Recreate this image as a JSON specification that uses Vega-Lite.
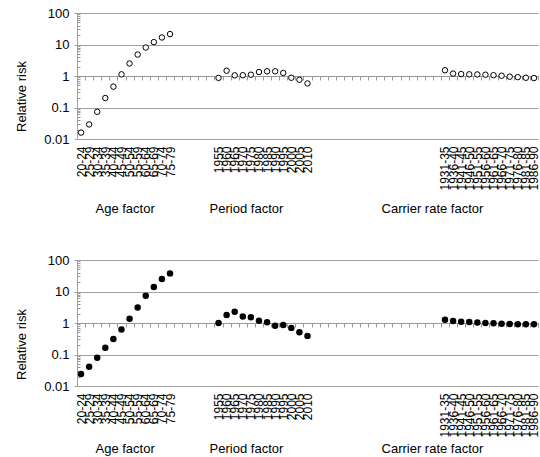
{
  "$schema": "https://vega.github.io/schema/vega-lite/v6.json",
  "padding": {"left": 15, "top": 7, "right": 0, "bottom": 0},
  "config": {"font": "Liberation Sans", "view": {"stroke": null}, "concat": {"spacing": 38}},
  "datasets": {
    "top": [
      {"cat": "20-24", "rr": 0.016}, {"cat": "25-29", "rr": 0.029}, {"cat": "30-34", "rr": 0.073}, {"cat": "35-39", "rr": 0.2},
      {"cat": "40-44", "rr": 0.46}, {"cat": "45-49", "rr": 1.13}, {"cat": "50-54", "rr": 2.5}, {"cat": "55-59", "rr": 4.8},
      {"cat": "60-64", "rr": 8.0}, {"cat": "65-69", "rr": 11.9}, {"cat": "70-74", "rr": 16.7}, {"cat": "75-79", "rr": 21.4},
      {"cat": "1955", "rr": 0.87}, {"cat": "1960", "rr": 1.47}, {"cat": "1965", "rr": 1.05}, {"cat": "1970", "rr": 1.06},
      {"cat": "1975", "rr": 1.1}, {"cat": "1980", "rr": 1.34}, {"cat": "1985", "rr": 1.41}, {"cat": "1990", "rr": 1.41},
      {"cat": "1995", "rr": 1.25}, {"cat": "2000", "rr": 0.88}, {"cat": "2005", "rr": 0.76}, {"cat": "2010", "rr": 0.58},
      {"cat": "1931-35", "rr": 1.52}, {"cat": "1936-40", "rr": 1.19}, {"cat": "1941-45", "rr": 1.15}, {"cat": "1946-50", "rr": 1.13},
      {"cat": "1951-55", "rr": 1.12}, {"cat": "1956-60", "rr": 1.1}, {"cat": "1961-65", "rr": 1.06}, {"cat": "1966-70", "rr": 1.02},
      {"cat": "1971-75", "rr": 0.95}, {"cat": "1976-80", "rr": 0.92}, {"cat": "1981-85", "rr": 0.88}, {"cat": "1986-90", "rr": 0.86}
    ],
    "bottom": [
      {"cat": "20-24", "rr": 0.024}, {"cat": "25-29", "rr": 0.041}, {"cat": "30-34", "rr": 0.079}, {"cat": "35-39", "rr": 0.163},
      {"cat": "40-44", "rr": 0.31}, {"cat": "45-49", "rr": 0.62}, {"cat": "50-54", "rr": 1.37}, {"cat": "55-59", "rr": 3.1},
      {"cat": "60-64", "rr": 7.3}, {"cat": "65-69", "rr": 13.9}, {"cat": "70-74", "rr": 24.9}, {"cat": "75-79", "rr": 37.6},
      {"cat": "1955", "rr": 1.0}, {"cat": "1960", "rr": 1.79}, {"cat": "1965", "rr": 2.27}, {"cat": "1970", "rr": 1.62},
      {"cat": "1975", "rr": 1.51}, {"cat": "1980", "rr": 1.18}, {"cat": "1985", "rr": 1.05}, {"cat": "1990", "rr": 0.82},
      {"cat": "1995", "rr": 0.86}, {"cat": "2000", "rr": 0.7}, {"cat": "2005", "rr": 0.51}, {"cat": "2010", "rr": 0.39},
      {"cat": "1931-35", "rr": 1.27}, {"cat": "1936-40", "rr": 1.16}, {"cat": "1941-45", "rr": 1.1}, {"cat": "1946-50", "rr": 1.08},
      {"cat": "1951-55", "rr": 1.03}, {"cat": "1956-60", "rr": 1.0}, {"cat": "1961-65", "rr": 0.98}, {"cat": "1966-70", "rr": 0.95},
      {"cat": "1971-75", "rr": 0.93}, {"cat": "1976-80", "rr": 0.91}, {"cat": "1981-85", "rr": 0.91}, {"cat": "1986-90", "rr": 0.91}
    ],
    "labels": [
      {"cat": "45-49", "factor": "Age factor"},
      {"cat": "1970", "factor": "Period factor"},
      {"cat": "h15", "factor": "Carrier rate factor"}
    ]
  },
  "vconcat": [
    {
      "width": 461, "height": 126,
      "layer": [
        {
          "data": {"name": "labels"},
          "mark": {"type": "text", "fontSize": 13, "dy": 70, "align": "center", "baseline": "middle", "color": "black"},
          "encoding": {
            "x": {"field": "cat", "type": "nominal", "bandPosition": 0.95,
              "scale": {"type": "band", "paddingInner": 0, "paddingOuter": 0, "domain": ["20-24","25-29","30-34","35-39","40-44","45-49","50-54","55-59","60-64","65-69","70-74","75-79","g1","g2","g3","g4","g5","1955","1960","1965","1970","1975","1980","1985","1990","1995","2000","2005","2010","h1","h2","h3","h4","h5","h6","h7","h8","h9","h10","h11","h12","h13","h14","h15","h16","1931-35","1936-40","1941-45","1946-50","1951-55","1956-60","1961-65","1966-70","1971-75","1976-80","1981-85","1986-90"]},
              "axis": {"orient": "bottom", "offset": -63, "title": null, "domain": true, "domainColor": "#999999", "ticks": true, "tickColor": "#999999", "tickWidth": 1, "tickSize": 4, "tickBand": "extent", "labelAngle": 270, "labelPadding": 66, "labelFontSize": 12, "labelColor": "black", "labelOverlap": false, "labelBound": false, "labelFlush": false, "grid": false, "labelExpr": "length(datum.label) < 4 ? '' : datum.label"}},
            "y": {"datum": 0.01, "type": "quantitative", "scale": {"type": "log", "domain": [0.01, 100], "nice": false},
              "axis": {"orient": "right", "offset": -461, "values": [0.02,0.03,0.04,0.05,0.06,0.07,0.08,0.09,0.2,0.3,0.4,0.5,0.6,0.7,0.8,0.9,2,3,4,5,6,7,8,9,20,30,40,50,60,70,80,90], "labels": false, "grid": false, "domain": false, "ticks": true, "tickSize": 3, "tickColor": "#999999", "title": null}},
            "text": {"field": "factor"}
          }
        },
        {
          "data": {"name": "top"},
          "mark": {"type": "point", "shape": "circle", "filled": false, "fill": "white", "fillOpacity": 1, "stroke": "black", "strokeWidth": 1, "size": 30, "opacity": 1},
          "encoding": {
            "x": {"field": "cat", "type": "nominal",
              "scale": {"type": "band", "paddingInner": 0, "paddingOuter": 0},
              "axis": {"orient": "bottom", "offset": -63, "title": null, "domain": true, "domainColor": "#999999", "ticks": true, "tickColor": "#999999", "tickWidth": 1, "tickSize": 4, "tickBand": "extent", "labelAngle": 270, "labelPadding": 66, "labelFontSize": 12, "labelColor": "black", "labelOverlap": false, "labelBound": false, "labelFlush": false, "grid": false, "labelExpr": "length(datum.label) < 4 ? '' : datum.label"}},
            "y": {"field": "rr", "type": "quantitative", "scale": {"type": "log", "domain": [0.01, 100], "nice": false},
              "axis": {"orient": "left", "values": [0.01, 0.1, 1, 10, 100], "format": "~g", "grid": true, "gridColor": "#a0a0a0", "domainColor": "#a0a0a0", "tickColor": "#a0a0a0", "tickSize": 3, "labelPadding": 5, "labelFontSize": 13, "labelColor": "black", "labelFlush": false, "title": "Relative risk", "titleFontSize": 13, "titleFontWeight": "normal", "titleColor": "black", "titleX": -49, "titleY": 83}}
          }
        }
      ],
      "resolve": {"axis": {"y": "independent"}}
    },
    {
      "width": 461, "height": 126,
      "layer": [
        {
          "data": {"name": "labels"},
          "mark": {"type": "text", "fontSize": 13, "dy": 63, "align": "center", "baseline": "middle", "color": "black"},
          "encoding": {
            "x": {"field": "cat", "type": "nominal", "bandPosition": 0.95,
              "scale": {"type": "band", "paddingInner": 0, "paddingOuter": 0, "domain": ["20-24","25-29","30-34","35-39","40-44","45-49","50-54","55-59","60-64","65-69","70-74","75-79","g1","g2","g3","g4","g5","1955","1960","1965","1970","1975","1980","1985","1990","1995","2000","2005","2010","h1","h2","h3","h4","h5","h6","h7","h8","h9","h10","h11","h12","h13","h14","h15","h16","1931-35","1936-40","1941-45","1946-50","1951-55","1956-60","1961-65","1966-70","1971-75","1976-80","1981-85","1986-90"]},
              "axis": {"orient": "bottom", "offset": -63, "title": null, "domain": true, "domainColor": "#999999", "ticks": true, "tickColor": "#999999", "tickWidth": 1, "tickSize": 4, "tickBand": "extent", "labelAngle": 270, "labelPadding": 66, "labelFontSize": 12, "labelColor": "black", "labelOverlap": false, "labelBound": false, "labelFlush": false, "grid": false, "labelExpr": "length(datum.label) < 4 ? '' : datum.label"}},
            "y": {"datum": 0.01, "type": "quantitative", "scale": {"type": "log", "domain": [0.01, 100], "nice": false},
              "axis": {"orient": "right", "offset": -461, "values": [0.02,0.03,0.04,0.05,0.06,0.07,0.08,0.09,0.2,0.3,0.4,0.5,0.6,0.7,0.8,0.9,2,3,4,5,6,7,8,9,20,30,40,50,60,70,80,90], "labels": false, "grid": false, "domain": false, "ticks": true, "tickSize": 3, "tickColor": "#999999", "title": null}},
            "text": {"field": "factor"}
          }
        },
        {
          "data": {"name": "bottom"},
          "mark": {"type": "point", "shape": "circle", "filled": true, "color": "black", "size": 42, "opacity": 1},
          "encoding": {
            "x": {"field": "cat", "type": "nominal",
              "scale": {"type": "band", "paddingInner": 0, "paddingOuter": 0},
              "axis": {"orient": "bottom", "offset": -63, "title": null, "domain": true, "domainColor": "#999999", "ticks": true, "tickColor": "#999999", "tickWidth": 1, "tickSize": 4, "tickBand": "extent", "labelAngle": 270, "labelPadding": 66, "labelFontSize": 12, "labelColor": "black", "labelOverlap": false, "labelBound": false, "labelFlush": false, "grid": false, "labelExpr": "length(datum.label) < 4 ? '' : datum.label"}},
            "y": {"field": "rr", "type": "quantitative", "scale": {"type": "log", "domain": [0.01, 100], "nice": false},
              "axis": {"orient": "left", "values": [0.01, 0.1, 1, 10, 100], "format": "~g", "grid": true, "gridColor": "#a0a0a0", "domainColor": "#a0a0a0", "tickColor": "#a0a0a0", "tickSize": 3, "labelPadding": 5, "labelFontSize": 13, "labelColor": "black", "labelFlush": false, "title": "Relative risk", "titleFontSize": 13, "titleFontWeight": "normal", "titleColor": "black", "titleX": -49, "titleY": 84}}
          }
        }
      ],
      "resolve": {"axis": {"y": "independent"}}
    }
  ]
}
